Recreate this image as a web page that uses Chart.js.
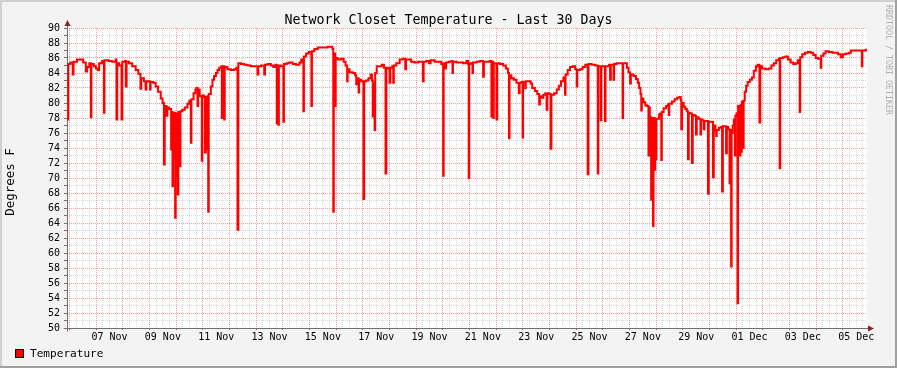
<!DOCTYPE html>
<html>
<head>
<meta charset="utf-8">
<script src="https://cdn.jsdelivr.net/npm/chart.js@4.4.1/dist/chart.umd.min.js"></script>
<style>
  html, body { margin: 0; padding: 0; background: #f3f3f3; }
  canvas { display: block; }
</style>
</head>
<body>
<canvas id="chart" width="897" height="368"></canvas>
<script>
// time axis is in days counted from 00 Nov 00:00 (so 01 Dec = 31)
const xMin = 5.905
const xMax = 35.905

const labelDays = [7.5, 9.5, 11.5, 13.5, 15.5, 17.5, 19.5, 21.5, 23.5, 25.5, 27.5, 29.5, 31.5, 33.5, 35.5]
const dayLabels = ['07 Nov', '09 Nov', '11 Nov', '13 Nov', '15 Nov', '17 Nov', '19 Nov', '21 Nov',
  '23 Nov', '25 Nov', '27 Nov', '29 Nov', '01 Dec', '03 Dec', '05 Dec']

const sampleDays = [
  5.91, 5.95, 6.03, 6.12, 6.15, 6.28, 6.41, 6.51, 6.61, 6.66, 6.74, 6.80, 6.82, 6.91, 6.99, 7.06, 7.11, 7.22, 7.29, 7.31,
  7.47, 7.60, 7.73, 7.76, 7.79, 7.86, 7.95, 7.98, 8.08, 8.11, 8.14, 8.23, 8.35, 8.48, 8.58, 8.66, 8.69, 8.79, 8.85, 8.88,
  8.94, 9.02, 9.04, 9.14, 9.23, 9.32, 9.42, 9.49, 9.54, 9.57, 9.64, 9.67, 9.74, 9.81, 9.83, 9.86, 9.88, 9.91, 9.93, 9.96,
  9.98, 10.01, 10.03, 10.06, 10.08, 10.11, 10.13, 10.16, 10.23, 10.32, 10.42, 10.49, 10.55, 10.57, 10.65, 10.72,
  10.76, 10.80, 10.82, 10.88, 10.96, 10.98, 11.05, 11.08, 11.11, 11.15, 11.17, 11.20, 11.22, 11.30, 11.36, 11.42, 11.49,
  11.55, 11.61, 11.69, 11.71, 11.74, 11.80, 11.82, 11.92, 12.05, 12.17, 12.26, 12.30, 12.33, 12.43, 12.55, 12.68, 12.80,
  12.93, 13.05, 13.08, 13.18, 13.30, 13.33, 13.43, 13.55, 13.64, 13.72, 13.77, 13.79, 13.83, 13.85, 13.93, 14.02, 14.04,
  14.14, 14.24, 14.37, 14.49, 14.62, 14.69, 14.77, 14.79, 14.87, 14.97, 15.07, 15.09, 15.18, 15.31, 15.43, 15.56, 15.68,
  15.81, 15.86, 15.89, 15.91, 15.96, 15.98,
  16.06, 16.18, 16.28, 16.35, 16.41, 16.43, 16.50, 16.62, 16.71, 16.75, 16.77, 16.84, 16.86, 16.94, 17.02, 17.05, 17.12,
  17.21, 17.29, 17.34, 17.37, 17.40, 17.44, 17.46, 17.52, 17.62, 17.71, 17.79, 17.85, 17.88, 17.96, 18.00, 18.03, 18.10,
  18.14, 18.16, 18.25, 18.38, 18.50, 18.59, 18.62, 18.72, 18.81, 18.94, 19.07, 19.19, 19.25, 19.28, 19.38, 19.48, 19.54,
  19.69, 19.82, 19.94, 20.01, 20.03, 20.09, 20.12, 20.22, 20.32, 20.36, 20.38, 20.51, 20.63, 20.76, 20.88, 20.95, 20.97,
  20.99,
  21.03, 21.11, 21.13, 21.26, 21.38, 21.51, 21.54, 21.66, 21.76, 21.82, 21.85, 21.89, 21.91, 21.99, 22.01, 22.04, 22.14,
  22.26, 22.36, 22.44, 22.48, 22.50, 22.57, 22.66, 22.76, 22.85, 22.88, 22.95, 22.99, 23.01, 23.09, 23.11, 23.20, 23.29,
  23.35, 23.45, 23.54, 23.61, 23.64, 23.70, 23.77, 23.84, 23.89, 23.92, 23.99, 24.04, 24.07, 24.17, 24.27, 24.35, 24.43,
  24.52, 24.58, 24.60, 24.68, 24.77, 24.87, 24.96, 25.02, 25.04, 25.14, 25.24, 25.34, 25.43, 25.46, 25.58, 25.71, 25.81,
  25.83, 25.92, 25.94, 26.08, 26.10,
  26.18, 26.23, 26.27, 26.30, 26.40, 26.42, 26.52, 26.65, 26.71, 26.74, 26.76, 26.84, 26.90, 26.96, 27.02, 27.05, 27.15,
  27.24, 27.31, 27.36, 27.41, 27.44, 27.46, 27.52, 27.59, 27.65, 27.71, 27.74, 27.76, 27.79, 27.81, 27.84, 27.88, 27.90,
  27.94, 27.96, 27.99, 28.01, 28.06, 28.11, 28.16, 28.19, 28.21, 28.28, 28.37, 28.44, 28.47, 28.49, 28.59, 28.69, 28.78,
  28.87, 28.92, 28.94, 28.97, 29.03, 29.09, 29.15, 29.19, 29.22, 29.28, 29.34, 29.37, 29.44, 29.49, 29.52, 29.59, 29.66,
  29.68, 29.72, 29.78, 29.81, 29.87, 29.94, 29.97, 30.04, 30.13, 30.16, 30.22, 30.25, 30.27, 30.35, 30.42, 30.47, 30.50,
  30.55, 30.62, 30.65, 30.70, 30.75, 30.77, 30.81, 30.83, 30.87, 30.91, 30.95, 30.97, 31.01, 31.05, 31.07,
  31.10, 31.13, 31.16, 31.18, 31.21, 31.26, 31.28, 31.32, 31.37, 31.43, 31.51, 31.59, 31.66, 31.74, 31.81, 31.87, 31.90,
  31.97, 32.10, 32.22, 32.32, 32.41, 32.50, 32.60, 32.63, 32.65, 32.75, 32.85, 32.94, 33.04, 33.14, 33.23, 33.31, 33.38,
  33.40, 33.48, 33.58, 33.69, 33.79, 33.89, 33.98, 34.07, 34.17, 34.19, 34.27, 34.35, 34.48, 34.61, 34.73, 34.82, 34.92,
  35.00, 35.11, 35.23, 35.30, 35.42, 35.55, 35.67, 35.71, 35.73, 35.86, 35.95
]

const sampleTemps = [
  77.8, 85.2, 85.4, 83.8, 85.5, 85.8, 85.8, 85.4, 84.2, 84.8, 85.3, 78.1, 85.2, 84.9, 84.6, 84.4, 85.3, 85.6, 78.7, 85.7,
  85.6, 85.5, 85.8, 77.8, 85.3, 85.0, 77.8, 85.5, 85.6, 82.2, 85.5, 85.3, 84.9, 84.4, 83.9, 81.9, 83.3, 82.9, 81.8, 82.9,
  82.9, 81.8, 82.8, 82.7, 82.2, 81.5, 80.6, 80.0, 71.8, 79.6, 78.3, 79.4, 79.2, 73.8, 78.8, 68.9, 78.7, 72.5, 78.7, 64.7,
  78.6, 70.0, 78.6, 67.8, 78.8, 73.0, 71.6, 78.9, 79.1, 79.4, 79.9, 80.3, 74.7, 80.5, 81.3, 81.8,
  82.0, 79.6, 81.8, 80.9, 72.3, 81.0, 80.8, 73.4, 80.8, 73.8, 80.9, 65.5, 81.2, 82.2, 83.1, 83.6, 84.0,
  84.4, 84.7, 84.9, 78.0, 84.9, 77.8, 84.8, 84.5, 84.4, 84.5, 84.7, 63.1, 85.3, 85.2, 85.1, 85.0, 84.9,
  84.9, 83.8, 84.9, 85.0, 83.8, 85.1, 85.2, 85.0, 84.8, 85.1, 77.3, 85.0, 77.1, 85.0, 84.9, 77.5, 85.2,
  85.3, 85.4, 85.2, 85.1, 85.4, 85.8, 78.9, 86.2, 86.6, 86.8, 79.6, 86.9, 87.2, 87.4, 87.4, 87.4, 87.5,
  87.5, 87.2, 65.5, 86.6, 79.6, 86.0,
  85.8, 85.9, 85.5, 85.0, 82.9, 84.5, 84.1, 84.0, 83.7, 82.5, 83.3, 81.4, 83.1, 82.9, 67.2, 82.9, 83.0,
  83.3, 83.8, 83.0, 78.2, 82.6, 76.4, 84.0, 84.9, 84.9, 85.1, 84.7, 70.6, 84.7, 84.6, 82.7, 84.7, 84.9,
  82.7, 85.0, 85.3, 85.8, 85.9, 84.5, 85.8, 85.8, 85.5, 85.4, 85.5, 85.5, 82.9, 85.5, 85.6, 85.3, 85.7,
  85.5, 85.5, 85.2, 70.3, 85.3, 84.6, 85.4, 85.5, 85.6, 84.0, 85.5, 85.4, 85.4, 85.3, 85.6, 85.2, 70.0,
  85.2,
  85.3, 84.0, 85.4, 85.5, 85.6, 83.5, 85.5, 85.5, 85.6, 78.2, 85.5, 78.0, 85.3, 85.3, 77.8, 85.3, 85.2,
  85.0, 84.6, 84.0, 75.3, 83.7, 83.3, 83.1, 82.7, 81.3, 82.7, 82.8, 75.4, 82.8, 82.0, 82.9, 82.9, 82.6,
  82.0, 81.6, 81.2, 79.8, 80.9, 80.7, 81.1, 81.3, 79.1, 81.3, 81.2, 73.9, 81.1, 81.3, 81.8, 82.3, 82.9,
  83.4, 81.1, 83.8, 84.4, 84.8, 84.9, 84.5, 82.2, 84.4, 84.5, 84.8, 85.1, 70.5, 85.2, 85.1, 85.0, 70.6,
  84.9, 77.7, 84.9, 77.6, 84.9,
  84.9, 85.1, 83.1, 85.1, 83.1, 85.2, 85.3, 85.3, 85.3, 78.0, 85.3, 85.3, 84.7, 84.1, 82.6, 83.8, 83.6,
  83.2, 82.7, 82.0, 81.2, 79.0, 80.6, 80.1, 79.7, 79.6, 73.0, 79.4, 78.2, 74.0, 67.1, 78.0, 63.6, 78.0,
  71.1, 77.9, 72.5, 77.9, 77.9, 78.5, 78.6, 72.4, 78.8, 79.3, 79.6, 79.8, 78.4, 79.9, 80.2, 80.5, 80.7,
  80.8, 80.4, 76.5, 80.0, 79.5, 79.2, 78.9, 72.5, 78.7, 78.6, 72.0, 78.4, 78.3, 75.8, 78.1, 77.9, 75.8,
  77.8, 77.7, 76.5, 77.6, 77.6, 67.9, 77.5, 77.5, 70.1, 77.0, 76.3, 75.6, 76.4, 76.7, 76.8, 68.2, 76.9,
  76.9, 73.3, 76.8, 76.5, 69.3, 76.4, 58.2, 76.0, 77.0, 77.8, 73.0, 78.3, 78.6, 53.3, 79.6,
  79.6, 73.0, 79.7, 73.5, 80.2, 74.0, 80.3, 81.5, 82.3, 82.8, 83.1, 83.4, 84.3, 84.9, 85.1, 77.4, 84.9,
  84.6, 84.5, 84.6, 85.0, 85.3, 85.7, 85.9, 71.3, 86.0, 86.1, 86.2, 85.8, 85.4, 85.2, 85.3, 85.7, 78.8,
  86.1, 86.5, 86.7, 86.8, 86.7, 86.4, 86.0, 85.9, 84.7, 86.3, 86.6, 86.9, 86.8, 86.7, 86.7, 86.5, 86.1,
  86.5, 86.6, 86.7, 87.0, 87.0, 87.0, 87.0, 84.9, 87.0, 87.1, 87.1
]

const MONO = 'DejaVu Sans Mono'
const majorGrid = 'rgba(235,80,80,0.55)'
const minorGrid = 'rgba(128,128,128,0.3)'

const rrdDecor = {
  id: 'rrdDecor',
  beforeDraw(chart) {
    const { ctx, width, height, chartArea: a } = chart
    ctx.save()
    ctx.fillStyle = '#f3f3f3'
    ctx.fillRect(0, 0, width, height)
    ctx.fillStyle = '#d0d0d0'
    ctx.fillRect(0, 0, width, 2)
    ctx.fillRect(0, 0, 2, height)
    ctx.fillStyle = '#a0a0a0'
    ctx.fillRect(0, height - 2, width, 2)
    ctx.fillRect(width - 2, 0, 2, height)
    ctx.fillStyle = '#ffffff'
    ctx.fillRect(a.left, a.top, a.right - a.left, a.bottom - a.top)
    ctx.restore()
  },
  beforeDatasetsDraw(chart) {
    const { ctx, chartArea: a } = chart
    const x0 = Math.round(a.left) + 0.5
    const y0 = Math.round(a.bottom) + 0.5
    ctx.save()
    ctx.strokeStyle = '#707070'
    ctx.lineWidth = 1
    ctx.beginPath()
    ctx.moveTo(x0, y0 + 3)
    ctx.lineTo(x0, a.top - 6)
    ctx.moveTo(x0 - 4, y0)
    ctx.lineTo(a.right + 5, y0)
    ctx.stroke()
    ctx.fillStyle = '#8b2020'
    ctx.beginPath()
    ctx.moveTo(x0 - 3, a.top - 2)
    ctx.lineTo(x0 + 3, a.top - 2)
    ctx.lineTo(x0, a.top - 8)
    ctx.closePath()
    ctx.fill()
    ctx.beginPath()
    ctx.moveTo(a.right + 1, y0 - 3)
    ctx.lineTo(a.right + 1, y0 + 3)
    ctx.lineTo(a.right + 7, y0)
    ctx.closePath()
    ctx.fill()
    ctx.restore()
  },
  afterDraw(chart) {
    const { ctx, width } = chart
    ctx.save()
    // legend
    ctx.fillStyle = '#ff0000'
    ctx.fillRect(15, 349, 9, 9)
    ctx.strokeStyle = '#000'
    ctx.lineWidth = 1
    ctx.strokeRect(15.5, 349.5, 8, 8)
    ctx.fillStyle = '#000'
    ctx.font = `11.1px "${MONO}"`
    ctx.textBaseline = 'middle'
    ctx.textAlign = 'left'
    ctx.fillText(chart.data.datasets[0].label, 30, 354)
    // unit label
    ctx.save()
    ctx.translate(10.5, 182)
    ctx.rotate(-Math.PI / 2)
    ctx.font = `12.5px "${MONO}"`
    ctx.textAlign = 'center'
    ctx.fillText('Degrees F', 0, 0)
    ctx.restore()
    // watermark
    ctx.save()
    ctx.translate(width - 9, 5)
    ctx.rotate(Math.PI / 2)
    ctx.fillStyle = '#b0b0b0'
    ctx.font = `8.3px "${MONO}"`
    ctx.textAlign = 'left'
    ctx.fillText('RRDTOOL / TOBI OETIKER', 0, 0)
    ctx.restore()
    ctx.restore()
  }
}

const xTicks = []
for (let d = 6; d < xMax; d += 0.25) xTicks.push(d)
const yTicks = []
for (let v = 50; v <= 90; v++) yTicks.push(v)

new Chart(document.getElementById('chart'), {
  type: 'line',
  data: {
    datasets: [{
      label: 'Temperature',
      data: sampleDays.map((d, i) => ({ x: d, y: sampleTemps[i] })),
      borderColor: '#ff0000',
      backgroundColor: '#ff0000',
      borderWidth: 2,
      pointRadius: 0,
      stepped: true,
      fill: false
    }]
  },
  options: {
    responsive: false,
    animation: false,
    devicePixelRatio: 1,
    layout: { padding: { left: 30, top: 0, right: 30, bottom: 0 } },
    scales: {
      x: {
        type: 'linear',
        min: xMin,
        max: xMax,
        afterBuildTicks: s => { s.ticks = xTicks.map(v => ({ value: v })) },
        afterFit: s => { s.height = 40 },
        ticks: {
          autoSkip: false,
          maxRotation: 0,
          minRotation: 0,
          padding: 1,
          color: '#000',
          font: { family: MONO, size: 10 },
          callback: v => {
            const i = labelDays.findIndex(d => Math.abs(d - v) < 1e-6)
            return i >= 0 ? dayLabels[i] : ''
          }
        },
        grid: {
          color: c => Number.isInteger(c.tick.value) ? majorGrid : minorGrid,
          tickColor: c => Number.isInteger(c.tick.value) ? '#707070' : 'rgba(0,0,0,0)',
          tickLength: 2,
          lineWidth: 1
        },
        border: { display: false, dash: [1, 1] }
      },
      y: {
        min: 50,
        max: 90,
        afterBuildTicks: s => { s.ticks = yTicks.map(v => ({ value: v })) },
        afterFit: s => { s.width = 37 },
        ticks: {
          autoSkip: false,
          padding: 4,
          color: '#000',
          font: { family: MONO, size: 10 },
          callback: v => (v % 2 === 0 ? String(v) : '')
        },
        grid: {
          color: c => (c.tick.value % 2 === 0 ? majorGrid : minorGrid),
          tickColor: '#707070',
          tickLength: 3,
          lineWidth: 1
        },
        border: { display: false, dash: [1, 1] }
      }
    },
    plugins: {
      legend: { display: false },
      tooltip: { enabled: false },
      title: {
        display: true,
        text: 'Network Closet Temperature - Last 30 Days',
        color: '#000',
        font: { family: MONO, size: 13.3, weight: 'normal', lineHeight: '12px' },
        padding: { top: 15, bottom: 1 }
      }
    }
  },
  plugins: [rrdDecor]
})
</script>
</body>
</html>
